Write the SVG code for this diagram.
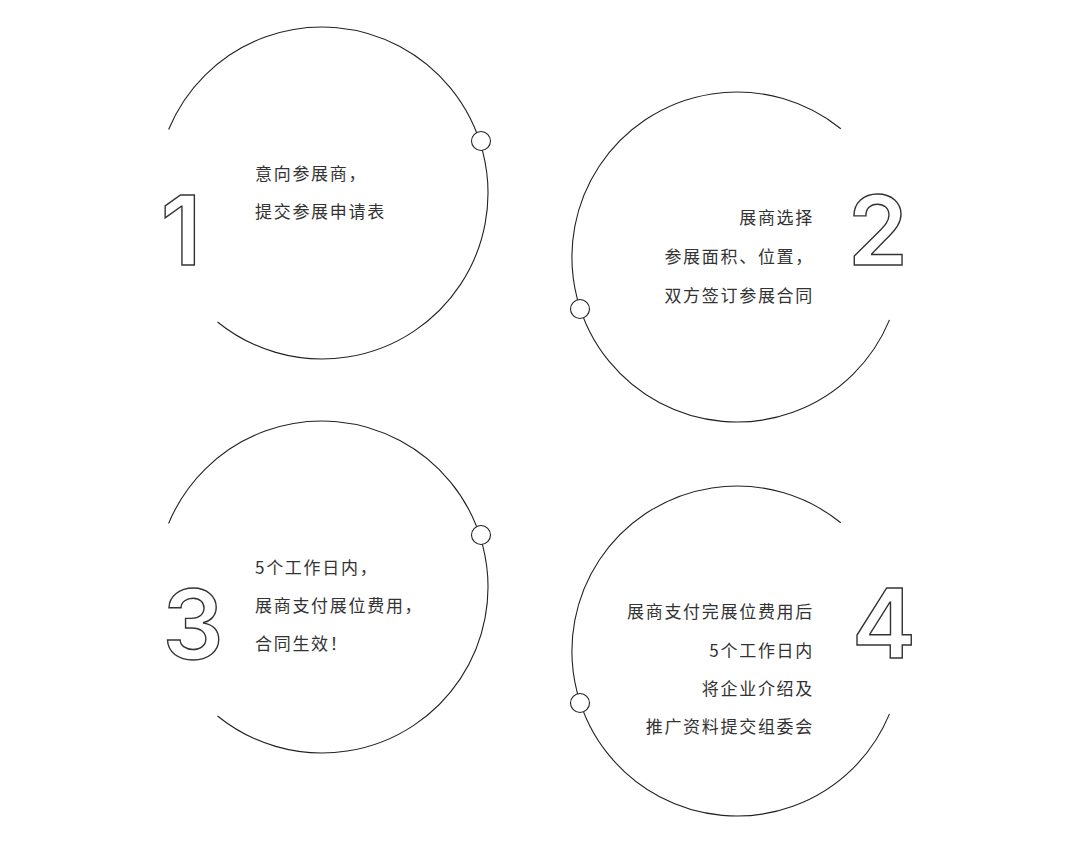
<svg xmlns="http://www.w3.org/2000/svg" width="1080" height="850" viewBox="0 0 1080 850">
<style>
.arc{fill:none;stroke:#222;stroke-width:1.1}
.dot{fill:#fff;stroke:#222;stroke-width:1.1}
.num{font-family:Inter,Lato,"Liberation Sans",sans-serif;font-size:96px;font-weight:600;fill:#fff;stroke:#333;stroke-width:1.4;text-anchor:middle}
.t{font-family:"Noto Sans CJK SC","Noto Sans",sans-serif;font-size:17px;fill:#333;letter-spacing:1.7px}
.r{text-anchor:end}
</style>
<rect width="1080" height="850" fill="#fff"/>
<g id="step1">
<path class="arc" d="M168.6,129.5 A166,166 0 1 1 217.5,322.0"/>
<circle class="dot" cx="481" cy="141" r="9.5"/>
<text class="num" x="181" y="265">1</text>
<text class="t" x="255" y="180">意向参展商，</text>
<text class="t" x="255" y="218">提交参展申请表</text>
</g>
<g id="step2">
<path class="arc" d="M889.5,319.9 A165,165 0 1 1 840.8,128.8"/>
<circle class="dot" cx="580" cy="309" r="9.5"/>
<text class="num" x="878" y="265">2</text>
<text class="t r" x="814" y="224">展商选择</text>
<text class="t r" x="814" y="263">参展面积、位置，</text>
<text class="t r" x="814" y="302">双方签订参展合同</text>
</g>
<g id="step3">
<path class="arc" d="M168.6,523.5 A166,166 0 1 1 217.5,716.0"/>
<circle class="dot" cx="481" cy="535" r="9.5"/>
<text class="num" x="193" y="659">3</text>
<text class="t" x="255" y="574">5个工作日内，</text>
<text class="t" x="255" y="612">展商支付展位费用，</text>
<text class="t" x="255" y="650">合同生效！</text>
</g>
<g id="step4">
<path class="arc" d="M889.5,713.9 A165,165 0 1 1 840.8,522.8"/>
<circle class="dot" cx="580" cy="703" r="9.5"/>
<text class="num" x="884" y="658">4</text>
<text class="t r" x="814" y="618">展商支付完展位费用后</text>
<text class="t r" x="814" y="657">5个工作日内</text>
<text class="t r" x="814" y="695">将企业介绍及</text>
<text class="t r" x="814" y="733">推广资料提交组委会</text>
</g>
</svg>
